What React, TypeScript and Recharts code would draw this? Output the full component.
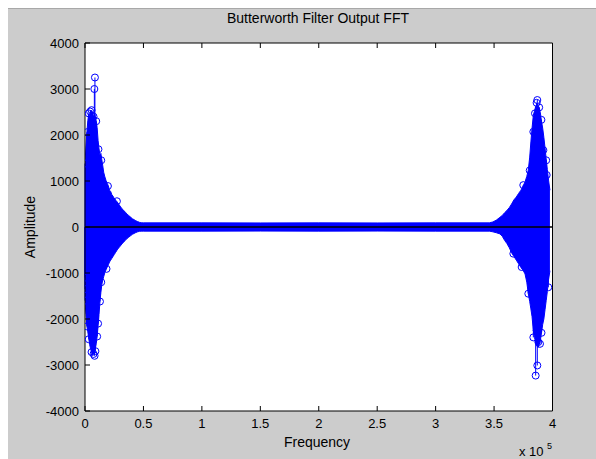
import React from 'react';
import { ComposedChart, Area, Scatter, XAxis, YAxis, ReferenceLine, CartesianGrid } from 'recharts';

// ---- data ----
const freqHz = [
  0, 800, 1600, 2400, 3200, 4000, 4800, 5600, 6400, 7200,
  8000, 8800, 9600, 10400, 11200, 12000, 12800, 13600, 14400, 15200,
  16000, 17000, 18000, 19000, 20000, 21000, 22000, 23000, 24000, 25000,
  26000, 27000, 28000, 29000, 30000, 31500, 33000, 34500, 36000, 37500,
  39000, 40500, 42000, 43500, 45000, 46500, 48000, 50000,
  100000, 150000, 200000, 250000, 300000,
  346000, 349000, 352000, 355000, 357000, 359000, 361000, 363000, 365000, 367000,
  369000, 371000, 373000, 375000, 376500, 378000, 379300, 380500, 381500, 382500,
  383600, 384600, 385600, 386600, 387600, 388600, 389600, 390600, 391600, 392600,
  393600, 394600, 395600, 396600, 397800,
];
const upperAmp = [
  1380, 1760, 2050, 2310, 2460, 2360, 2520, 2430, 2510, 2380,
  2480, 2410, 2300, 2160, 1880, 1700, 1560, 1600, 1460, 1330,
  1190, 1090, 1010, 950, 890, 800, 770, 700, 670, 620,
  600, 550, 530, 490, 455, 400, 365, 320, 285, 245,
  215, 180, 160, 135, 118, 102, 92, 90,
  90, 88, 90, 88, 90,
  90, 110, 150, 210, 250, 310, 360, 420, 500, 590,
  650, 730, 800, 900, 980, 1100, 1240, 1520, 1850, 2150,
  2430, 2520, 2620, 2580, 2640, 2600, 2480, 2300, 2150, 1950,
  1720, 1480, 1250, 1020, 800,
];
const lowerAmp = [
  -1620, -1900, -2150, -2280, -2420, -2560, -2650, -2720, -2780, -2700,
  -2760, -2650, -2540, -2380, -2150, -1900, -1620, -1420, -1250, -1150,
  -1080, -990, -930, -870, -820, -760, -720, -680, -640, -600,
  -560, -520, -480, -450, -420, -370, -330, -290, -250, -220,
  -190, -160, -140, -120, -105, -95, -90, -90,
  -90, -88, -90, -88, -90,
  -90, -105, -125, -150, -200, -290, -360, -450, -560, -640,
  -720, -800, -880, -950, -1020, -1200, -1450, -1620, -1780, -1950,
  -2250, -2400, -2520, -2580, -2620, -2560, -2470, -2300, -2120, -2000,
  -1800, -1600, -1400, -1150, -950,
];
const markerFreq = [
  8500, 8000, 4400, 5600, 7300, 3200, 1600, 9600, 11500, 13900, 19600, 27300, 0,
  0, 0, 0, 1600, 3200, 5600, 7300, 8200, 8900, 10400, 11200, 12800, 13900, 18400,
  387000, 386400, 385000, 383600, 388600, 390500, 392200, 394600, 395000, 380500, 375000,
  366500, 373600, 379300, 383600, 386500, 387900, 389300, 390600, 396400, 387000, 385600,
];
const markerAmp = [
  3250, 3000, 2510, 2540, 2400, 2470, 2060, 2300, 1690, 1450, 890, 560, 1380,
  -1100, -1350, -1600, -2160, -2440, -2720, -2760, -2800, -2700, -2380, -2100, -1620, -1200, -910,
  2760, 2700, 2470, 2070, 2600, 2330, 1670, 1450, 1130, 1230, 910,
  -580, -870, -1450, -2400, -2250, -2500, -2540, -2300, -1310, -3010, -3230,
];
const xTicks = [0, 50000, 100000, 150000, 200000, 250000, 300000, 350000, 400000];
const yTicks = [-4000, -3000, -2000, -1000, 0, 1000, 2000, 3000, 4000];
const titleText = 'Butterworth Filter Output FFT';
const xLabelText = 'Frequency';
const yLabelText = 'Amplitude';

const envelope = freqHz.map((f, i) => ({ f, range: [lowerAmp[i], upperAmp[i]] }));
const markers = markerFreq.map((f, i) => ({ f, a: markerAmp[i] }));

const FONT = '"Liberation Sans", Arial, Helvetica, sans-serif';
const BLUE = '#0000ff';
const W = 588;
const H = 451;

const fmtX = (v: number) => String(v / 100000);

const BottomTick = (p: any) => (
  <g>
    <line x1={p.x} y1={p.y} x2={p.x} y2={p.y - 5} stroke="#000" strokeWidth={1} />
    <text x={p.x} y={p.y + 17} textAnchor="middle" fontSize={13} fontFamily={FONT} fill="#000">
      {fmtX(p.payload.value)}
    </text>
  </g>
);
const TopTick = (p: any) => (
  <line x1={p.x} y1={p.y} x2={p.x} y2={p.y + 5} stroke="#000" strokeWidth={1} />
);
const LeftTick = (p: any) => (
  <g>
    <line x1={p.x} y1={p.y} x2={p.x + 5} y2={p.y} stroke="#000" strokeWidth={1} />
    <text x={p.x - 6} y={p.y + 4.5} textAnchor="end" fontSize={13} fontFamily={FONT} fill="#000">
      {String(p.payload.value)}
    </text>
  </g>
);
const RightTick = (p: any) => (
  <line x1={p.x} y1={p.y} x2={p.x - 5} y2={p.y} stroke="#000" strokeWidth={1} />
);

const Marker = (p: any) => (
  <circle cx={p.cx} cy={p.cy} r={3.5} fill="none" stroke={BLUE} strokeWidth={1} />
);

export default function App() {
  return (
    <div style={{ position: 'fixed', left: 8, top: 8, width: W, height: H, background: '#cccccc' }}>
      <ComposedChart
        width={W}
        height={H}
        data={envelope}
        margin={{ top: 34, right: 42.5, bottom: 0, left: 0 }}
      >
        <CartesianGrid fill="#ffffff" horizontal={false} vertical={false} />
        <XAxis
          dataKey="f"
          type="number"
          domain={[0, 400000]}
          ticks={xTicks}
          interval={0}
          allowDataOverflow
          height={48}
          tickSize={0}
          tickMargin={0}
          tickLine={false}
          axisLine={{ stroke: '#000' }}
          tick={BottomTick}
        />
        <XAxis
          xAxisId="top"
          orientation="top"
          dataKey="f"
          type="number"
          domain={[0, 400000]}
          ticks={xTicks}
          interval={0}
          height={1}
          tickSize={0}
          tickMargin={0}
          tickLine={false}
          axisLine={{ stroke: '#000' }}
          tick={TopTick}
        />
        <YAxis
          type="number"
          domain={[-4000, 4000]}
          ticks={yTicks}
          interval={0}
          allowDataOverflow
          width={77}
          tickSize={0}
          tickMargin={0}
          tickLine={false}
          axisLine={{ stroke: '#000' }}
          tick={LeftTick}
        />
        <YAxis
          yAxisId="right"
          orientation="right"
          type="number"
          domain={[-4000, 4000]}
          ticks={yTicks}
          interval={0}
          width={1}
          tickSize={0}
          tickMargin={0}
          tickLine={false}
          axisLine={{ stroke: '#000' }}
          tick={RightTick}
        />
        <Area
          dataKey="range"
          type="linear"
          stroke={BLUE}
          strokeWidth={1}
          fill={BLUE}
          fillOpacity={1}
          dot={false}
          activeDot={false}
          isAnimationActive={false}
        />
        {markers.map((m, i) => (
          <ReferenceLine
            key={'s' + i}
            segment={[{ x: m.f, y: 0 }, { x: m.f, y: m.a }]}
            stroke={BLUE}
            strokeWidth={1}
          />
        ))}
        <Scatter data={markers} dataKey="a" shape={Marker} isAnimationActive={false} />
        <ReferenceLine y={0} stroke="#000" strokeWidth={1.5} />
      </ComposedChart>
      <svg
        width={W}
        height={H}
        style={{ position: 'absolute', left: 0, top: 0, pointerEvents: 'none' }}
      >
        <rect x={0} y={0} width={W} height={1} fill="#a8a8a8" />
        <text x={310} y={15} textAnchor="middle" fontSize={14} fontFamily={FONT} fill="#000">
          {titleText}
        </text>
        <text x={309} y={438.5} textAnchor="middle" fontSize={14} fontFamily={FONT} fill="#000">
          {xLabelText}
        </text>
        <text
          x={0}
          y={0}
          transform="translate(27 219) rotate(-90)"
          textAnchor="middle"
          fontSize={14}
          fontFamily={FONT}
          fill="#000"
        >
          {yLabelText}
        </text>
        <text x={511} y={448} fontSize={13} fontFamily={FONT} fill="#000">
          x 10
        </text>
        <text x={539} y={441} fontSize={9} fontFamily={FONT} fill="#000">
          5
        </text>
      </svg>
    </div>
  );
}
